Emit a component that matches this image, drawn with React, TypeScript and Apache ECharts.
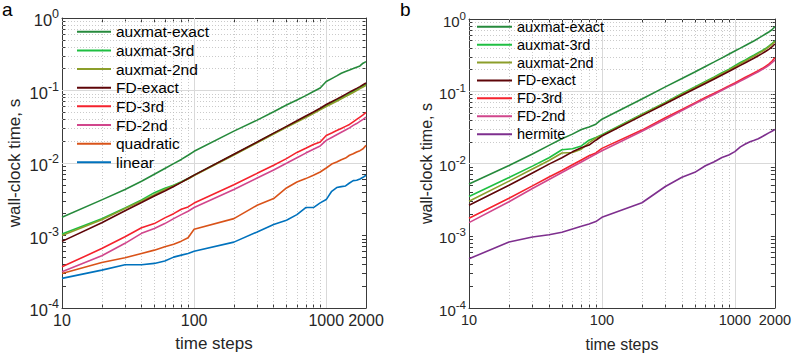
import React, { useEffect, useRef } from 'react';
import * as echarts from 'echarts';

const FONT = 'Liberation Sans, Arial, Helvetica, sans-serif';
const TEXT = '#262626';
const AXIS = '#3a3a3a';

// time steps (x values)
const steps = [10, 20, 30, 40, 50, 60, 70, 80, 90, 100, 200, 300, 400, 500, 600, 700, 800, 900, 1000,
  1100, 1200, 1300, 1400, 1500, 1600, 1700, 1800, 1900, 2000];

// ---- panel a ----
const aAuxExact = [1.78e-3, 3.1e-3, 4.3e-3, 5.6e-3, 7.0e-3, 8.4e-3, 9.8e-3, 1.12e-2, 1.28e-2, 1.45e-2,
  2.75e-2, 3.9e-2, 5.1e-2, 6.3e-2, 7.4e-2, 8.5e-2, 9.7e-2, 1.08e-1, 1.33e-1,
  1.46e-1, 1.59e-1, 1.73e-1, 1.83e-1, 1.92e-1, 2.01e-1, 2.1e-1, 2.18e-1, 2.38e-1, 2.5e-1];
const aAux3rd = [1.05e-3, 1.7e-3, 2.4e-3, 3.1e-3, 3.9e-3, 4.5e-3, 4.95e-3, 5.5e-3, 6.1e-3, 6.8e-3,
  1.31e-2, 1.93e-2, 2.55e-2, 3.15e-2, 3.75e-2, 4.35e-2, 4.95e-2, 5.55e-2, 6.2e-2,
  6.75e-2, 7.35e-2, 7.95e-2, 8.5e-2, 9.1e-2, 9.7e-2, 1.03e-1, 1.09e-1, 1.15e-1, 1.22e-1];
const aAux2nd = [1.0e-3, 1.65e-3, 2.35e-3, 3.0e-3, 3.65e-3, 4.3e-3, 4.85e-3, 5.45e-3, 6.0e-3, 6.7e-3,
  1.29e-2, 1.9e-2, 2.5e-2, 3.1e-2, 3.68e-2, 4.25e-2, 4.82e-2, 5.4e-2, 6.0e-2,
  6.55e-2, 7.1e-2, 7.7e-2, 8.25e-2, 8.8e-2, 9.4e-2, 1.0e-1, 1.06e-1, 1.12e-1, 1.18e-1];
const aFDExact = [8.3e-4, 1.5e-3, 2.2e-3, 2.85e-3, 3.5e-3, 4.1e-3, 4.75e-3, 5.4e-3, 6.1e-3, 6.8e-3,
  1.32e-2, 1.95e-2, 2.58e-2, 3.2e-2, 3.82e-2, 4.45e-2, 5.05e-2, 5.7e-2, 6.4e-2,
  7.0e-2, 7.6e-2, 8.2e-2, 8.85e-2, 9.5e-2, 1.01e-1, 1.07e-1, 1.13e-1, 1.2e-1, 1.27e-1];
const aFD3rd = [3.7e-4, 6.6e-4, 9.6e-4, 1.28e-3, 1.46e-3, 1.75e-3, 2.0e-3, 2.3e-3, 2.48e-3, 2.8e-3,
  5.0e-3, 7.2e-3, 9.3e-3, 1.15e-2, 1.4e-2, 1.6e-2, 1.8e-2, 1.95e-2, 2.4e-2,
  2.6e-2, 2.8e-2, 3.0e-2, 3.2e-2, 3.4e-2, 3.7e-2, 4.0e-2, 4.3e-2, 4.6e-2, 5.0e-2];
const aFD2nd = [3.16e-4, 5.25e-4, 7.8e-4, 1.07e-3, 1.25e-3, 1.46e-3, 1.71e-3, 1.94e-3, 2.16e-3, 2.43e-3,
  4.3e-3, 6.2e-3, 8.0e-3, 9.9e-3, 1.18e-2, 1.37e-2, 1.55e-2, 1.72e-2, 2.05e-2,
  2.25e-2, 2.45e-2, 2.65e-2, 2.85e-2, 3.05e-2, 3.3e-2, 3.5e-2, 3.75e-2, 4.0e-2, 4.3e-2];
const aQuadratic = [3.0e-4, 4.25e-4, 4.93e-4, 5.65e-4, 6.28e-4, 6.98e-4, 7.6e-4, 8.36e-4, 9.3e-4, 1.22e-3,
  1.71e-3, 2.61e-3, 3.23e-3, 4.53e-3, 5.48e-3, 6.09e-3, 6.77e-3, 7.51e-3, 8.53e-3,
  9.68e-3, 1.03e-2, 1.11e-2, 1.17e-2, 1.28e-2, 1.34e-2, 1.42e-2, 1.48e-2, 1.57e-2, 1.75e-2];
const aLinear = [2.56e-4, 3.33e-4, 3.95e-4, 3.95e-4, 4.12e-4, 4.44e-4, 5.03e-4, 5.36e-4, 5.65e-4, 6.08e-4,
  8.1e-4, 1.12e-3, 1.42e-3, 1.62e-3, 1.94e-3, 2.43e-3, 2.43e-3, 2.82e-3, 3.13e-3,
  4.07e-3, 4.58e-3, 4.72e-3, 4.82e-3, 5.3e-3, 5.71e-3, 5.77e-3, 6.02e-3, 6.35e-3, 6.77e-3];

// ---- panel b ----
const bAuxExact = [5.2e-3, 9.4e-3, 1.35e-2, 1.78e-2, 2.2e-2, 2.55e-2, 2.95e-2, 3.2e-2, 3.5e-2, 4.1e-2,
  7.8e-2, 1.15e-1, 1.5e-1, 1.85e-1, 2.2e-1, 2.55e-1, 2.9e-1, 3.25e-1, 3.6e-1,
  3.95e-1, 4.3e-1, 4.65e-1, 5.0e-1, 5.4e-1, 5.8e-1, 6.2e-1, 6.6e-1, 7.1e-1, 7.8e-1];
const bAux3rd = [3.5e-3, 6.4e-3, 9.2e-3, 1.2e-2, 1.55e-2, 1.6e-2, 1.75e-2, 2.1e-2, 2.3e-2, 2.5e-2,
  4.8e-2, 7.0e-2, 9.3e-2, 1.15e-1, 1.37e-1, 1.58e-1, 1.8e-1, 2.0e-1, 2.25e-1,
  2.5e-1, 2.72e-1, 2.95e-1, 3.18e-1, 3.42e-1, 3.65e-1, 3.9e-1, 4.2e-1, 4.55e-1, 5.0e-1];
const bAux2nd = [3.0e-3, 5.7e-3, 8.4e-3, 1.1e-2, 1.4e-2, 1.42e-2, 1.58e-2, 1.95e-2, 2.25e-2, 2.45e-2,
  4.75e-2, 6.9e-2, 9.1e-2, 1.12e-1, 1.33e-1, 1.54e-1, 1.75e-1, 1.95e-1, 2.18e-1,
  2.4e-1, 2.62e-1, 2.85e-1, 3.08e-1, 3.32e-1, 3.55e-1, 3.8e-1, 4.1e-1, 4.45e-1, 4.85e-1];
const bFDExact = [2.65e-3, 5.0e-3, 7.4e-3, 9.8e-3, 1.2e-2, 1.45e-2, 1.65e-2, 1.8e-2, 2.1e-2, 2.4e-2,
  4.6e-2, 6.7e-2, 8.8e-2, 1.08e-1, 1.28e-1, 1.48e-1, 1.68e-1, 1.88e-1, 2.08e-1,
  2.28e-1, 2.48e-1, 2.68e-1, 2.88e-1, 3.1e-1, 3.32e-1, 3.55e-1, 3.8e-1, 4.1e-1, 4.5e-1];
const bFD3rd = [1.75e-3, 3.3e-3, 4.9e-3, 6.5e-3, 8.0e-3, 9.6e-3, 1.12e-2, 1.28e-2, 1.4e-2, 1.62e-2,
  2.9e-2, 4.3e-2, 5.6e-2, 6.9e-2, 8.2e-2, 9.4e-2, 1.06e-1, 1.18e-1, 1.3e-1,
  1.43e-1, 1.56e-1, 1.68e-1, 1.8e-1, 1.93e-1, 2.06e-1, 2.2e-1, 2.37e-1, 2.6e-1, 2.9e-1];
const bFD2nd = [1.52e-3, 2.95e-3, 4.5e-3, 6.0e-3, 7.5e-3, 9.0e-3, 1.05e-2, 1.2e-2, 1.35e-2, 1.5e-2,
  2.8e-2, 4.1e-2, 5.4e-2, 6.7e-2, 7.9e-2, 9.1e-2, 1.03e-1, 1.15e-1, 1.26e-1,
  1.38e-1, 1.5e-1, 1.62e-1, 1.74e-1, 1.86e-1, 1.99e-1, 2.12e-1, 2.28e-1, 2.48e-1, 2.7e-1];
const bHermite = [4.8e-4, 8.2e-4, 9.6e-4, 1.03e-3, 1.12e-3, 1.24e-3, 1.35e-3, 1.45e-3, 1.57e-3, 1.8e-3,
  2.86e-3, 4.8e-3, 6.45e-3, 7.55e-3, 9.3e-3, 1.06e-2, 1.21e-2, 1.31e-2, 1.46e-2,
  1.7e-2, 1.86e-2, 2.0e-2, 2.1e-2, 2.2e-2, 2.35e-2, 2.5e-2, 2.65e-2, 2.8e-2, 2.95e-2];

// tick labels
const xTickLabels = [10, 100, 1000, 2000];
const yTickLabels = [1e-4, 1e-3, 1e-2, 1e-1, 1];
// tick & grid positions
const xMajorGrid = [100, 1000];
const xMinorGrid = [20, 30, 40, 50, 60, 70, 80, 90, 200, 300, 400, 500, 600, 700, 800, 900];
const yMajorGrid = [1e-3, 1e-2, 1e-1];
const yMinorGrid: number[] = [];
[1e-4, 1e-3, 1e-2, 1e-1].forEach((d) => {
  for (let k = 2; k <= 9; k++) yMinorGrid.push(+(k * d).toPrecision(6));
});
const xTickPos = [10, ...xMinorGrid, ...xMajorGrid, 2000].sort((a, b) => a - b);
const yTickPos = [...yTickLabels, ...yMinorGrid].sort((a, b) => a - b);

const COLORS: Record<string, string> = {
  'auxmat-exact': '#268a3c',
  'auxmat-3rd': '#1fbf42',
  'auxmat-2nd': '#8c9e2a',
  'FD-exact': '#5e0508',
  'FD-3rd': '#f5222d',
  'FD-2nd': '#d1468c',
  quadratic: '#d95319',
  linear: '#0072bd',
  hermite: '#7e2f8e',
};

const panelA: [string, number[]][] = [
  ['auxmat-exact', aAuxExact], ['auxmat-3rd', aAux3rd], ['auxmat-2nd', aAux2nd], ['FD-exact', aFDExact],
  ['FD-3rd', aFD3rd], ['FD-2nd', aFD2nd], ['quadratic', aQuadratic], ['linear', aLinear],
];
const panelB: [string, number[]][] = [
  ['auxmat-exact', bAuxExact], ['auxmat-3rd', bAux3rd], ['auxmat-2nd', bAux2nd], ['FD-exact', bFDExact],
  ['FD-3rd', bFD3rd], ['FD-2nd', bFD2nd], ['hermite', bHermite],
];

const minorStyle = { color: '#bdbdbd', width: 0.8, type: [1, 2] as any };
const majorStyle = { color: '#d9d9d9', width: 1, type: 'solid' as any };

function gridMarkLine() {
  return {
    silent: true,
    z: 1,
    symbol: ['none', 'none'],
    label: { show: false },
    emphasis: { disabled: true },
    animation: false,
    data: [
      ...xMinorGrid.map((v) => ({ xAxis: v, lineStyle: minorStyle })),
      ...yMinorGrid.map((v) => ({ yAxis: v, lineStyle: minorStyle })),
      ...xMajorGrid.map((v) => ({ xAxis: v, lineStyle: majorStyle })),
      ...yMajorGrid.map((v) => ({ yAxis: v, lineStyle: majorStyle })),
    ],
  };
}

const lineStyleAxis = { color: AXIS, width: 1 };

function xAxes(gridIndex: number, fs: number, nameFs: number, nameGap: number) {
  return [
    {
      type: 'log', logBase: 10, gridIndex, min: 10, max: 2000, position: 'bottom',
      axisLine: { show: true, onZero: false, lineStyle: lineStyleAxis },
      axisTick: { show: true, inside: true, length: 4, customValues: xTickPos, lineStyle: lineStyleAxis },
      axisLabel: {
        customValues: xTickLabels, margin: 4, fontSize: fs, color: TEXT, fontFamily: FONT, fontWeight: 'normal',
        formatter: (v: number) => String(Math.round(v)),
      },
      splitLine: { show: false }, minorTick: { show: false },
      name: 'time steps', nameLocation: 'middle', nameGap,
      nameTextStyle: { fontSize: nameFs, color: TEXT, fontFamily: FONT, fontWeight: 'normal' },
    },
    {
      type: 'log', logBase: 10, gridIndex, min: 10, max: 2000, position: 'top',
      axisLine: { show: true, onZero: false, lineStyle: lineStyleAxis },
      axisTick: { show: true, inside: true, length: 4, customValues: xTickPos, lineStyle: lineStyleAxis },
      axisLabel: { show: false }, splitLine: { show: false },
    },
  ];
}

function yAxes(gridIndex: number, fs: number, sfs: number, nameFs: number, nameGap: number) {
  return [
    {
      type: 'log', logBase: 10, gridIndex, min: 1e-4, max: 1, position: 'left',
      axisLine: { show: true, onZero: false, lineStyle: lineStyleAxis },
      axisTick: { show: true, inside: true, length: 4, customValues: yTickPos, lineStyle: lineStyleAxis },
      axisLabel: {
        customValues: yTickLabels, margin: 3,
        formatter: (v: number) => `{b|10}{s|${Math.round(Math.log10(v))}}`,
        rich: {
          b: { fontSize: fs, color: TEXT, fontFamily: FONT, fontWeight: 'normal', padding: [4, 0, 0, 0], verticalAlign: 'bottom' },
          s: { fontSize: sfs, color: TEXT, fontFamily: FONT, fontWeight: 'normal', verticalAlign: 'top' },
        },
      },
      splitLine: { show: false }, minorTick: { show: false },
      name: 'wall-clock time, s', nameLocation: 'middle', nameGap,
      nameTextStyle: { fontSize: nameFs, color: TEXT, fontFamily: FONT, fontWeight: 'normal' },
    },
    {
      type: 'log', logBase: 10, gridIndex, min: 1e-4, max: 1, position: 'right',
      axisLine: { show: true, onZero: false, lineStyle: lineStyleAxis },
      axisTick: { show: true, inside: true, length: 4, customValues: yTickPos, lineStyle: lineStyleAxis },
      axisLabel: { show: false }, splitLine: { show: false },
    },
  ];
}

function makeSeries(panel: [string, number[]][], axisIndex: number) {
  return panel.map(([name, vals], i) => ({
    type: 'line',
    name,
    xAxisIndex: axisIndex,
    yAxisIndex: axisIndex,
    data: steps.map((s, j) => [s, vals[j]]),
    showSymbol: false,
    symbol: 'none',
    z: 2,
    silent: true,
    lineStyle: { width: 1.6, color: COLORS[name] },
    itemStyle: { color: COLORS[name] },
    emphasis: { disabled: true },
    ...(i === 0 ? { markLine: gridMarkLine() } : {}),
  }));
}

export default function App() {
  const ref = useRef<HTMLDivElement>(null);
  useEffect(() => {
    if (!ref.current) return;
    const chart = echarts.init(ref.current, undefined, { renderer: 'svg' });
    const titleStyle = { fontSize: 19, fontWeight: 'normal', color: '#000', fontFamily: FONT };
    const option: any = {
      animation: false,
      backgroundColor: '#ffffff',
      textStyle: { fontFamily: FONT, fontWeight: 'normal' },
      title: [
        { text: 'a', left: 2, top: 0, padding: 0, textStyle: titleStyle },
        { text: 'b', left: 400, top: 0, padding: 0, textStyle: titleStyle },
      ],
      grid: [
        { left: 62, top: 18, width: 304, height: 291, containLabel: false },
        { left: 469, top: 19, width: 308, height: 294, containLabel: false },
      ],
      legend: [
        {
          orient: 'vertical', left: 77, top: 22.4, padding: 0, itemGap: 0, itemWidth: 34, itemHeight: 2,
          icon: 'rect', data: panelA.map((p) => p[0]), selectedMode: false,
          textStyle: { fontSize: 15.5, lineHeight: 18.66, color: '#000', fontFamily: FONT, fontWeight: 'normal' },
        },
        {
          orient: 'vertical', left: 477, top: 17.8, padding: 0, itemGap: 0, itemWidth: 35, itemHeight: 2,
          icon: 'rect', data: panelB.map((p) => p[0]), selectedMode: false,
          textStyle: { fontSize: 14.5, lineHeight: 17.9, color: '#000', fontFamily: FONT, fontWeight: 'normal' },
        },
      ],
      xAxis: [...xAxes(0, 16, 17, 27), ...xAxes(1, 14.5, 16, 28)],
      yAxis: [...yAxes(0, 16.5, 12.5, 17, 39), ...yAxes(1, 15, 11.5, 16, 35)],
      series: [...makeSeries(panelA, 0), ...makeSeries(panelB, 2)],
    };
    chart.setOption(option);
    return () => chart.dispose();
  }, []);
  return (
    <div
      ref={ref}
      style={{ position: 'absolute', left: 0, top: 0, width: 794, height: 357, background: '#fff' }}
    />
  );
}
